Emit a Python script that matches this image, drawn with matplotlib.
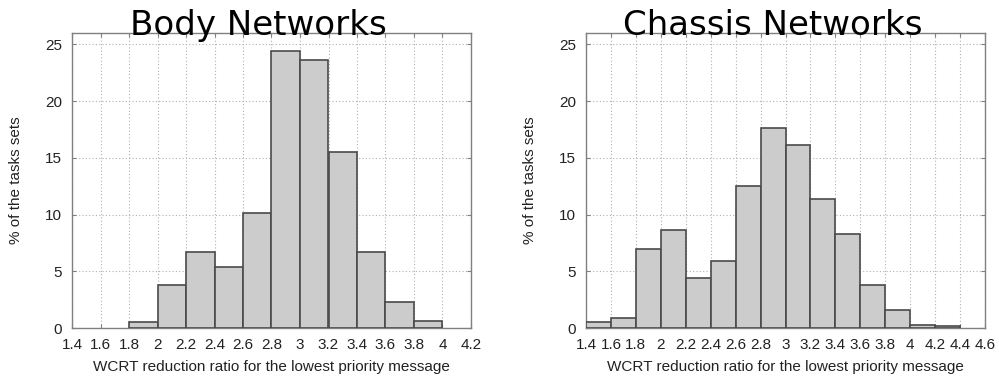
import numpy as np
import matplotlib
matplotlib.use('Agg')
import matplotlib.pyplot as plt

# histogram bins (left edges) and percentages per network type
body_edges = [1.8, 2.0, 2.2, 2.4, 2.6, 2.8, 3.0, 3.2, 3.4, 3.6, 3.8]
body_pct = [0.5, 3.8, 6.7, 5.4, 10.1, 24.4, 23.65, 15.55, 6.7, 2.3, 0.6]

chassis_edges = [1.4, 1.6, 1.8, 2.0, 2.2, 2.4, 2.6, 2.8, 3.0, 3.2, 3.4, 3.6, 3.8, 4.0, 4.2]
chassis_pct = [0.5, 0.9, 7.0, 8.6, 4.4, 5.9, 12.55, 17.6, 16.1, 11.4, 8.3, 3.8, 1.6, 0.3, 0.2]

body_xticks = [1.4, 1.6, 1.8, 2, 2.2, 2.4, 2.6, 2.8, 3, 3.2, 3.4, 3.6, 3.8, 4, 4.2]
chassis_xticks = [1.4, 1.6, 1.8, 2, 2.2, 2.4, 2.6, 2.8, 3, 3.2, 3.4, 3.6, 3.8, 4, 4.2, 4.4, 4.6]
yticks = [0, 5, 10, 15, 20, 25]

bin_w = 0.2
W, H = 999, 381

fig = plt.figure(figsize=(W / 100, H / 100), dpi=100)
plt.rcParams['font.family'] = ['Liberation Sans', 'DejaVu Sans']


def draw_hist(ax, edges, pct, xticks, xlim):
    ax.bar(edges, pct, width=bin_w, align='edge', color='#cccccc',
           edgecolor='#4a4a4a', linewidth=1.2, zorder=3)
    ax.set_xlim(*xlim)
    ax.set_ylim(0, 26)
    ax.set_xticks(xticks)
    ax.set_xticklabels(['%g' % t for t in xticks])
    ax.set_yticks(yticks)
    ax.grid(True, linestyle=(0, (1, 2)), color='#b0b0b0', linewidth=0.8, zorder=0)
    for s in ax.spines.values():
        s.set_color('#808080')
        s.set_linewidth(1.0)
    ax.tick_params(direction='in', length=3, color='#808080', top=True, right=True,
                   labelsize=11, pad=7, labelcolor='#222222')
    ax.set_xlabel('WCRT reduction ratio for the lowest priority message',
                  fontsize=11, color='#222222', labelpad=6)
    ax.set_ylabel('% of the tasks sets', fontsize=11, color='#222222', labelpad=16)


ax1 = fig.add_axes([72 / W, 53 / H, 399 / W, 295 / H])
draw_hist(ax1, body_edges, body_pct, body_xticks, (1.4, 4.2))

ax2 = fig.add_axes([586 / W, 53 / H, 399 / W, 295 / H])
draw_hist(ax2, chassis_edges, chassis_pct, chassis_xticks, (1.4, 4.6))

fig.text(258 / W, 1 - 35 / H, 'Body Networks', fontsize=24.5, family='DejaVu Sans',
         ha='center', va='baseline', zorder=10)
fig.text(773 / W, 1 - 35 / H, 'Chassis Networks', fontsize=24.5, family='DejaVu Sans',
         ha='center', va='baseline', zorder=10)

fig.savefig('out.png', dpi=100)
